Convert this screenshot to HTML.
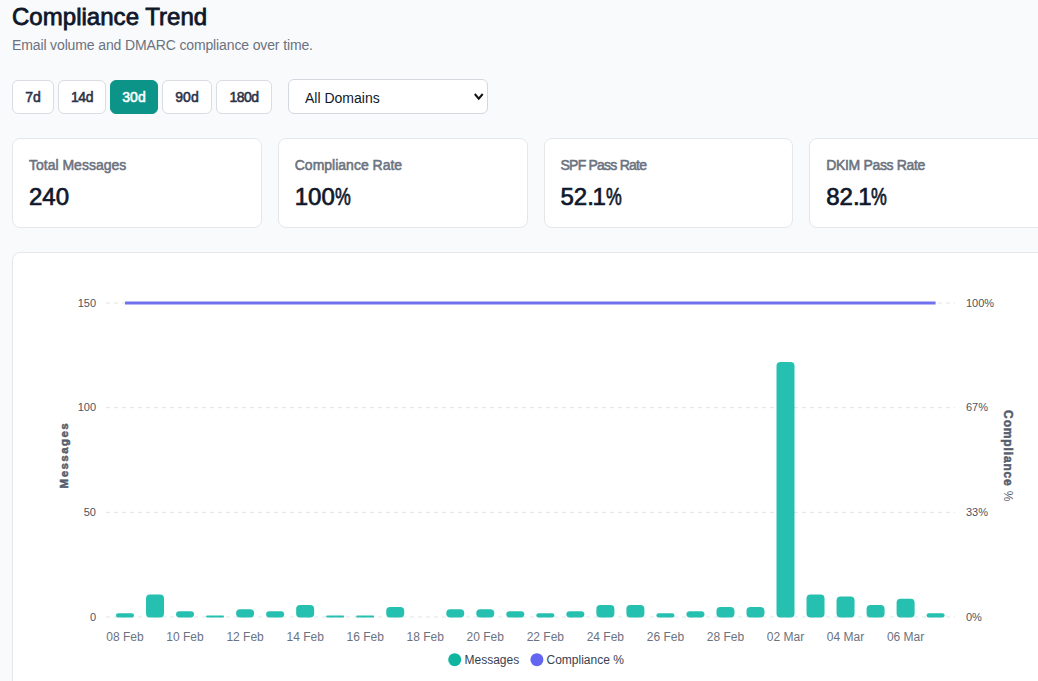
<!DOCTYPE html>
<html><head><meta charset="utf-8"><title>Compliance Trend</title>
<style>
*{box-sizing:border-box}
html,body{margin:0;padding:0}
body{width:1038px;height:681px;overflow:hidden;background:#f9fafb;font-family:"Liberation Sans","DejaVu Sans",sans-serif;color:#0f172a;position:relative}
h1{position:absolute;left:12px;top:2px;margin:0;font-size:24px;line-height:30px;font-weight:400;-webkit-text-stroke:0.8px #0f172a;letter-spacing:0.03px;color:#0f172a;white-space:nowrap}
.sub{position:absolute;left:12px;top:36px;margin:0;font-size:14px;line-height:18px;color:#6b7280;letter-spacing:-0.13px;white-space:nowrap}
.btn{position:absolute;top:80px;height:34px;border:1px solid #d9dce3;border-radius:6px;background:#fff;font-size:14px;font-weight:400;-webkit-text-stroke:0.55px currentColor;color:#2b3245;text-align:center;line-height:32px}
.btn.act{background:#0d9488;border-color:#0d9488;color:#fff}
.sel{position:absolute;left:288px;top:79px;width:200px;height:35px;border:1px solid #d4d8df;border-radius:6px;background:#fff;font-size:14px;line-height:37px;padding-left:16px;color:#111827}
.sel svg{position:absolute;left:185.1px;top:13px}
.card{position:absolute;top:138px;width:249.75px;height:90px;border:1px solid #e5e7eb;border-radius:8px;background:#fff}
.card .l{position:absolute;left:16px;top:17px;font-size:14px;line-height:18px;font-weight:400;-webkit-text-stroke:0.55px #6b7280;color:#6b7280;white-space:nowrap}
.card .v{position:absolute;left:16px;top:43px;font-size:24px;line-height:30px;font-weight:400;-webkit-text-stroke:0.7px #0f172a;color:#0f172a;white-space:nowrap}
.pc{display:inline-block;transform:scaleX(0.74);transform-origin:0 50%}
.dt{letter-spacing:-1.5px}
.chart{position:absolute;left:12px;top:252px;width:1048px;height:460px;border:1px solid #e5e7eb;border-radius:8px;background:#fff}
svg.c{position:absolute;left:0;top:0}
svg.c text{font-family:"Liberation Sans",sans-serif}
</style></head><body>
<h1>Compliance Trend</h1>
<p class="sub">Email volume and DMARC compliance over time.</p>
<div class="btn" style="left:12px;width:42px">7d</div>
<div class="btn" style="left:58px;width:48px;letter-spacing:-0.5px">14d</div>
<div class="btn act" style="left:110px;width:48px">30d</div>
<div class="btn" style="left:162px;width:50px">90d</div>
<div class="btn" style="left:216px;width:56px;letter-spacing:-0.55px">180d</div>
<div class="sel">All Domains<svg width="10" height="8" viewBox="0 0 10 8"><path d="M0.8 1 L4.75 5.6 L8.7 1" fill="none" stroke="#111" stroke-width="2" stroke-linecap="butt"/></svg></div>
<div class="card" style="left:12px"><div class="l">Total Messages</div><div class="v">240</div></div>
<div class="card" style="left:277.75px"><div class="l">Compliance Rate</div><div class="v">100<span class="pc">%</span></div></div>
<div class="card" style="left:543.5px"><div class="l" style="letter-spacing:-0.77px">SPF Pass Rate</div><div class="v">52<span class="dt">.</span>1<span class="pc">%</span></div></div>
<div class="card" style="left:809.25px"><div class="l" style="letter-spacing:-0.34px">DKIM Pass Rate</div><div class="v">82<span class="dt">.</span>1<span class="pc">%</span></div></div>
<div class="chart"></div>
<svg class="c" width="1038" height="681" viewBox="0 0 1038 681">
<g stroke="#e2e3e6" stroke-width="1" stroke-dasharray="4 4" fill="none">
<line x1="106" y1="303" x2="955" y2="303"/>
<line x1="106" y1="407.67" x2="955" y2="407.67"/>
<line x1="106" y1="512.33" x2="955" y2="512.33"/>
<line x1="106" y1="617" x2="955" y2="617"/>
</g>
<g fill="#26c0b1">
<rect x="116.00" y="613.31" width="18" height="4.19" rx="2.09" ry="2.09"/>
<rect x="146.02" y="594.47" width="18" height="23.03" rx="4.00" ry="4.00"/>
<rect x="176.05" y="611.22" width="18" height="6.28" rx="3.14" ry="3.14"/>
<rect x="206.07" y="615.41" width="18" height="2.09" rx="1.05" ry="1.05"/>
<rect x="236.09" y="609.13" width="18" height="8.37" rx="4.00" ry="4.00"/>
<rect x="266.12" y="611.22" width="18" height="6.28" rx="3.14" ry="3.14"/>
<rect x="296.14" y="604.94" width="18" height="12.56" rx="4.00" ry="4.00"/>
<rect x="326.16" y="615.41" width="18" height="2.09" rx="1.05" ry="1.05"/>
<rect x="356.18" y="615.41" width="18" height="2.09" rx="1.05" ry="1.05"/>
<rect x="386.21" y="607.03" width="18" height="10.47" rx="4.00" ry="4.00"/>
<rect x="446.25" y="609.13" width="18" height="8.37" rx="4.00" ry="4.00"/>
<rect x="476.28" y="609.13" width="18" height="8.37" rx="4.00" ry="4.00"/>
<rect x="506.30" y="611.22" width="18" height="6.28" rx="3.14" ry="3.14"/>
<rect x="536.32" y="613.31" width="18" height="4.19" rx="2.09" ry="2.09"/>
<rect x="566.35" y="611.22" width="18" height="6.28" rx="3.14" ry="3.14"/>
<rect x="596.37" y="604.94" width="18" height="12.56" rx="4.00" ry="4.00"/>
<rect x="626.39" y="604.94" width="18" height="12.56" rx="4.00" ry="4.00"/>
<rect x="656.41" y="613.31" width="18" height="4.19" rx="2.09" ry="2.09"/>
<rect x="686.44" y="611.22" width="18" height="6.28" rx="3.14" ry="3.14"/>
<rect x="716.46" y="607.03" width="18" height="10.47" rx="4.00" ry="4.00"/>
<rect x="746.48" y="607.03" width="18" height="10.47" rx="4.00" ry="4.00"/>
<rect x="776.51" y="362.11" width="18" height="255.39" rx="4.00" ry="4.00"/>
<rect x="806.53" y="594.47" width="18" height="23.03" rx="4.00" ry="4.00"/>
<rect x="836.55" y="596.57" width="18" height="20.93" rx="4.00" ry="4.00"/>
<rect x="866.58" y="604.94" width="18" height="12.56" rx="4.00" ry="4.00"/>
<rect x="896.60" y="598.66" width="18" height="18.84" rx="4.00" ry="4.00"/>
<rect x="926.62" y="613.31" width="18" height="4.19" rx="2.09" ry="2.09"/>
</g>
<line x1="125" y1="303" x2="935.6" y2="303" stroke="#6f71ef" stroke-width="3"/>
<g font-size="11" fill="#4b5563" text-anchor="end">
<text x="96" y="307">150</text>
<text x="96" y="411">100</text>
<text x="96" y="516">50</text>
<text x="96" y="621">0</text>
</g>
<g font-size="11" fill="#4b5563" text-anchor="start">
<text x="966" y="307">100%</text>
<text x="966" y="411">67%</text>
<text x="966" y="516">33%</text>
<text x="966" y="621">0%</text>
</g>
<g font-size="12" fill="#6b7280">
<text x="125.00" y="641" text-anchor="middle">08 Feb</text>
<text x="185.05" y="641" text-anchor="middle">10 Feb</text>
<text x="245.09" y="641" text-anchor="middle">12 Feb</text>
<text x="305.14" y="641" text-anchor="middle">14 Feb</text>
<text x="365.18" y="641" text-anchor="middle">16 Feb</text>
<text x="425.23" y="641" text-anchor="middle">18 Feb</text>
<text x="485.28" y="641" text-anchor="middle">20 Feb</text>
<text x="545.32" y="641" text-anchor="middle">22 Feb</text>
<text x="605.37" y="641" text-anchor="middle">24 Feb</text>
<text x="665.41" y="641" text-anchor="middle">26 Feb</text>
<text x="725.46" y="641" text-anchor="middle">28 Feb</text>
<text x="785.51" y="641" text-anchor="middle">02 Mar</text>
<text x="845.55" y="641" text-anchor="middle">04 Mar</text>
<text x="905.60" y="641" text-anchor="middle">06 Mar</text>
</g>
<text transform="translate(67.6,455.1) rotate(-90)" text-anchor="middle" font-size="11.5" font-weight="700" fill="#565d6c" stroke="#565d6c" stroke-width="0.5" letter-spacing="1.45">Messages</text>
<text transform="translate(1004.3,455.8) rotate(90)" text-anchor="middle" font-size="12" font-weight="700" fill="#565d6c" stroke="#565d6c" stroke-width="0.5" letter-spacing="0.85">Compliance <tspan font-weight="400" stroke="none" letter-spacing="0">%</tspan></text>
<circle cx="454.7" cy="659.7" r="6.5" fill="#10b5a0"/>
<text x="464.5" y="664" font-size="12" fill="#374151">Messages</text>
<circle cx="536.9" cy="659.7" r="6.5" fill="#6366f1"/>
<text x="546.5" y="664" font-size="12" fill="#374151">Compliance %</text>
</svg>
</body></html>
